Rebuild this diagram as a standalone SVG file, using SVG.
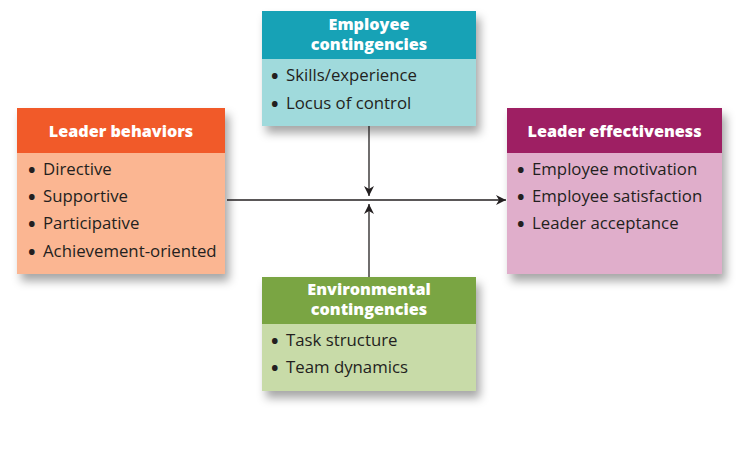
<svg xmlns="http://www.w3.org/2000/svg" width="744" height="459" viewBox="0 0 744 459">
  <defs>
    <filter id="shadow" x="-10%" y="-10%" width="130%" height="140%">
      <feDropShadow dx="4" dy="7" stdDeviation="5" flood-color="#000" flood-opacity="0.35"/>
    </filter>
    <marker id="arrow" viewBox="0 0 10 10" refX="10" refY="5" markerWidth="10" markerHeight="10" markerUnits="userSpaceOnUse" orient="auto">
      <path d="M0,0 L10,5 L0,10 L3,5 Z" fill="#231f20"/>
    </marker>
  </defs>
  <style>
    .head { font-family: "Open Sans", "Liberation Sans", sans-serif; font-weight: 800; font-size: 16.2px; fill: #ffffff; text-anchor: middle; }
    .item { font-family: "Open Sans", "Liberation Sans", sans-serif; font-size: 16.8px; fill: #231f20; }
    .dot { font-size: 20px; font-weight: 700; }
    .link { stroke: #231f20; stroke-width: 1.3; fill: none; marker-end: url(#arrow); }
  </style>
  <rect width="744" height="459" fill="#ffffff"/>

  <!-- Leader behaviors -->
  <g id="leader-behaviors">
    <rect x="17" y="108" width="208" height="166" fill="#fbb692" filter="url(#shadow)"/>
    <rect x="17" y="108" width="208" height="45" fill="#f15a29"/>
    <text class="head" x="121" y="137">Leader behaviors</text>
    <text class="item" y="175"><tspan class="dot" x="28" dy="2">•</tspan><tspan x="43" dy="-2">Directive</tspan></text>
    <text class="item" y="202"><tspan class="dot" x="28" dy="2">•</tspan><tspan x="43" dy="-2">Supportive</tspan></text>
    <text class="item" y="229"><tspan class="dot" x="28" dy="2">•</tspan><tspan x="43" dy="-2">Participative</tspan></text>
    <text class="item" y="257"><tspan class="dot" x="28" dy="2">•</tspan><tspan x="43" dy="-2">Achievement-oriented</tspan></text>
  </g>

  <!-- Employee contingencies -->
  <g id="employee-contingencies">
    <rect x="262" y="11" width="214" height="115" fill="#a0dadc" filter="url(#shadow)"/>
    <rect x="262" y="11" width="214" height="48" fill="#17a2b6"/>
    <text class="head" x="369" y="30">Employee</text>
    <text class="head" x="369" y="50">contingencies</text>
    <text class="item" y="81"><tspan class="dot" x="271" dy="2">•</tspan><tspan x="286" dy="-2">Skills/experience</tspan></text>
    <text class="item" y="109"><tspan class="dot" x="271" dy="2">•</tspan><tspan x="286" dy="-2">Locus of control</tspan></text>
  </g>

  <!-- Environmental contingencies -->
  <g id="environmental-contingencies">
    <rect x="262" y="277" width="214" height="114" fill="#c8dba8" filter="url(#shadow)"/>
    <rect x="262" y="277" width="214" height="47" fill="#7aa543"/>
    <text class="head" x="369" y="295">Environmental</text>
    <text class="head" x="369" y="315">contingencies</text>
    <text class="item" y="346"><tspan class="dot" x="271" dy="2">•</tspan><tspan x="286" dy="-2">Task structure</tspan></text>
    <text class="item" y="373"><tspan class="dot" x="271" dy="2">•</tspan><tspan x="286" dy="-2">Team dynamics</tspan></text>
  </g>

  <!-- Leader effectiveness -->
  <g id="leader-effectiveness">
    <rect x="507" y="108" width="215" height="166" fill="#e0aecb" filter="url(#shadow)"/>
    <rect x="507" y="108" width="215" height="45" fill="#9e1f63"/>
    <text class="head" x="614.5" y="137">Leader effectiveness</text>
    <text class="item" y="175"><tspan class="dot" x="517" dy="2">•</tspan><tspan x="532" dy="-2">Employee motivation</tspan></text>
    <text class="item" y="202"><tspan class="dot" x="517" dy="2">•</tspan><tspan x="532" dy="-2">Employee satisfaction</tspan></text>
    <text class="item" y="229"><tspan class="dot" x="517" dy="2">•</tspan><tspan x="532" dy="-2">Leader acceptance</tspan></text>
  </g>

  <!-- Connectors -->
  <g id="connectors">
    <line class="link" x1="227" y1="200" x2="506" y2="200"/>
    <line class="link" x1="369" y1="126" x2="369" y2="196"/>
    <line class="link" x1="369" y1="277" x2="369" y2="204"/>
  </g>
</svg>
